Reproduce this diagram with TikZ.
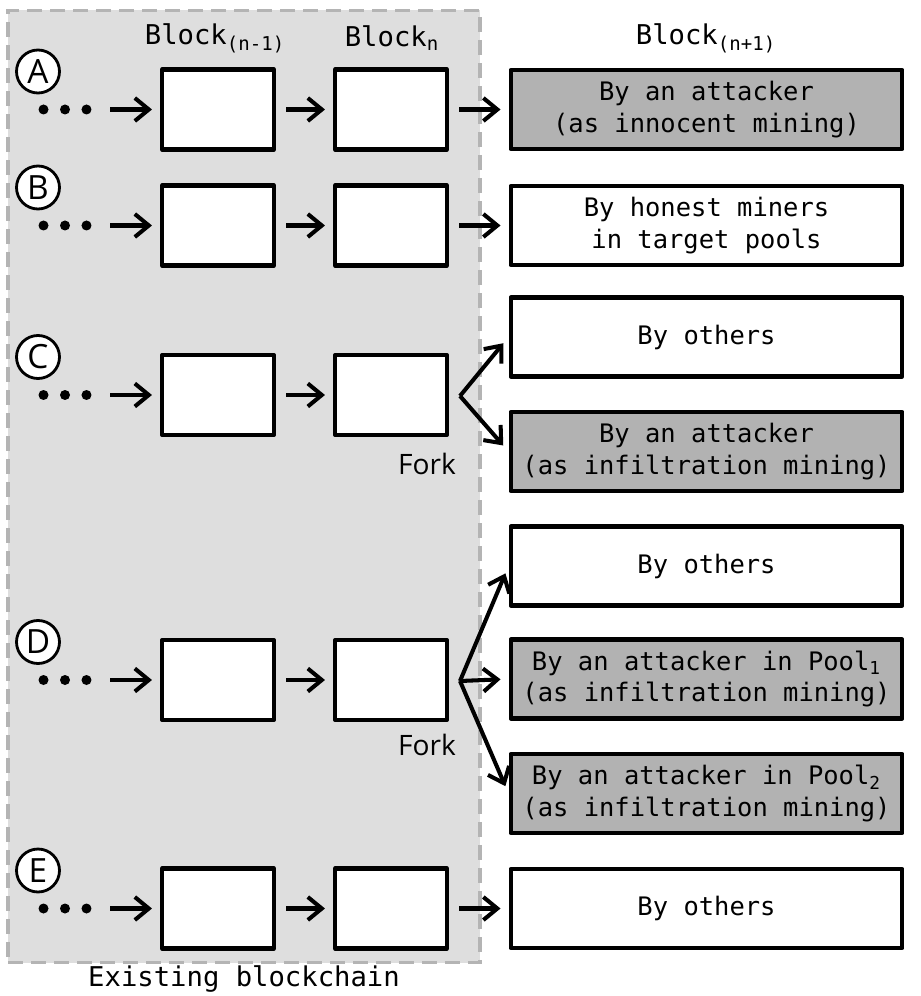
\documentclass[tikz,border=0pt]{standalone}
\usepackage{fontspec}
\setmonofont{DejaVu Sans Mono}
\setsansfont{Open Sans}
\usetikzlibrary{positioning, arrows.meta}
\definecolor{chaingray}{HTML}{DEDEDE}
\definecolor{edgegray}{HTML}{B4B4B4}
\definecolor{minegray}{HTML}{B2B2B2}
\tikzset{
  blk/.style     = {draw, line width=2.3pt, line join=round, fill=white, minimum width=2.24cm,
                    minimum height=1.6cm, inner sep=0pt},
  newblk/.style  = {blk, minimum width=7.84cm, minimum height=1.58cm, align=center,
                    font=\ttfamily\fontsize{14.5}{18}\selectfont},
  attblk/.style  = {newblk, fill=minegray},          % mined by the attacker
  case/.style    = {draw, circle, line width=1.6pt, fill=white, minimum size=0.86cm,
                    inner sep=0pt, font=\sffamily\fontsize{19}{19}\selectfont},
  dots/.style    = {minimum width=1.4cm, minimum height=0.4cm, inner sep=0pt,
                    path picture={\foreach \d in {-0.43,0,0.43}
                      \fill ([xshift=\d cm]path picture bounding box.center) circle (0.1cm);}},
  head/.style    = {font=\ttfamily\fontsize{15.5}{18}\selectfont},
  forklbl/.style = {font=\sffamily\fontsize{16}{16}\selectfont},
  arrow/.style   = {-{Straight Barb[length=2.8mm, width=4.6mm]}, line width=2.3pt,
                    shorten <=0.2cm, shorten >=0.16cm},
  fork/.style    = {arrow, shorten <=0pt},
  chainbg/.style = {draw=edgegray, fill=chaingray, line width=1.8pt,
                    dash pattern=on 0.3cm off 0.16cm, minimum width=9.44cm,
                    minimum height=19.06cm},
}

\begin{document}
\begin{tikzpicture}[x=0.02cm, y=-0.02cm]
  \useasboundingbox (0,0) rectangle (920,996);

  % existing chain
  \node[chainbg] at (244, 486.5) (chain) {};
  \node[head]    at (244, 979)   (chainlbl) {Existing blockchain};

  \node[head] at (215, 38) (hdprev) {Block\textsubscript{(n-1)}};
  \node[head] at (392, 38) (hdcur)  {Block\textsubscript{n}};
  \node[head] at (706, 38) (hdnext) {Block\textsubscript{(n+1)}};

  % case A
  \node[case]   at ( 38,  71.5) (caseA) {A};
  \node[dots]   at ( 65, 109.5) (dotsA) {};
  \node[blk]    at (218, 109.5) (blkAp) {};
  \node[blk]    at (391, 109.5) (blkAn) {};
  \node[attblk] at (706.5, 109.5) (attA) {By an attacker\\(as innocent mining)};

  % case B
  \node[case]   at ( 38, 187.5) (caseB) {B};
  \node[dots]   at ( 65, 225.5) (dotsB) {};
  \node[blk]    at (218, 225.5) (blkBp) {};
  \node[blk]    at (391, 225.5) (blkBn) {};
  \node[newblk] at (706.5, 225.5) (honB) {By honest miners\\in target pools};

  % case C
  \node[case]    at ( 38, 357) (caseC) {C};
  \node[dots]    at ( 65, 395) (dotsC) {};
  \node[blk]     at (218, 395) (blkCp) {};
  \node[blk]     at (391, 395) (blkCn) {};
  \coordinate    (forkC) at (460, 396);
  \node[forklbl] at (427, 464) (forkClbl) {Fork};
  \node[newblk]  at (706.5, 337) (othC) {By others};
  \node[attblk]  at (706.5, 451.5) (attC) {By an attacker\\(as infiltration mining)};

  % case D
  \node[case]    at ( 38, 642) (caseD) {D};
  \node[dots]    at ( 65, 680) (dotsD) {};
  \node[blk]     at (218, 680) (blkDp) {};
  \node[blk]     at (391, 680) (blkDn) {};
  \coordinate    (forkD) at (460, 681);
  \node[forklbl] at (427, 745) (forkDlbl) {Fork};
  \node[newblk]  at (706.5, 566) (othD) {By others};
  \node[attblk]  at (706.5, 679) (poolA) {By an attacker in Pool\textsubscript{1}\\(as infiltration mining)};
  \node[attblk]  at (706.5, 793.5) (poolB) {By an attacker in Pool\textsubscript{2}\\(as infiltration mining)};

  % case E
  \node[case]   at ( 38, 870.5) (caseE) {E};
  \node[dots]   at ( 65, 908.5) (dotsE) {};
  \node[blk]    at (218, 908.5) (blkEp) {};
  \node[blk]    at (391, 908.5) (blkEn) {};
  \node[newblk] at (706.5, 908.5) (othE) {By others};

  \draw[arrow] (dotsA) -- (blkAp);
  \draw[arrow] (blkAp) -- (blkAn);
  \draw[arrow] (blkAn) -- (attA);

  \draw[arrow] (dotsB) -- (blkBp);
  \draw[arrow] (blkBp) -- (blkBn);
  \draw[arrow] (blkBn) -- (honB);

  \draw[arrow] (dotsC) -- (blkCp);
  \draw[arrow] (blkCp) -- (blkCn);
  \draw[fork]  (forkC) -- (othC.west);
  \draw[fork]  (forkC) -- (attC.west);

  \draw[arrow] (dotsD) -- (blkDp);
  \draw[arrow] (blkDp) -- (blkDn);
  \draw[fork]  (forkD) -- (othD.west);
  \draw[fork]  (forkD) -- (poolA.west);
  \draw[fork]  (forkD) -- (poolB.west);

  \draw[arrow] (dotsE) -- (blkEp);
  \draw[arrow] (blkEp) -- (blkEn);
  \draw[arrow] (blkEn) -- (othE);
\end{tikzpicture}
\end{document}
